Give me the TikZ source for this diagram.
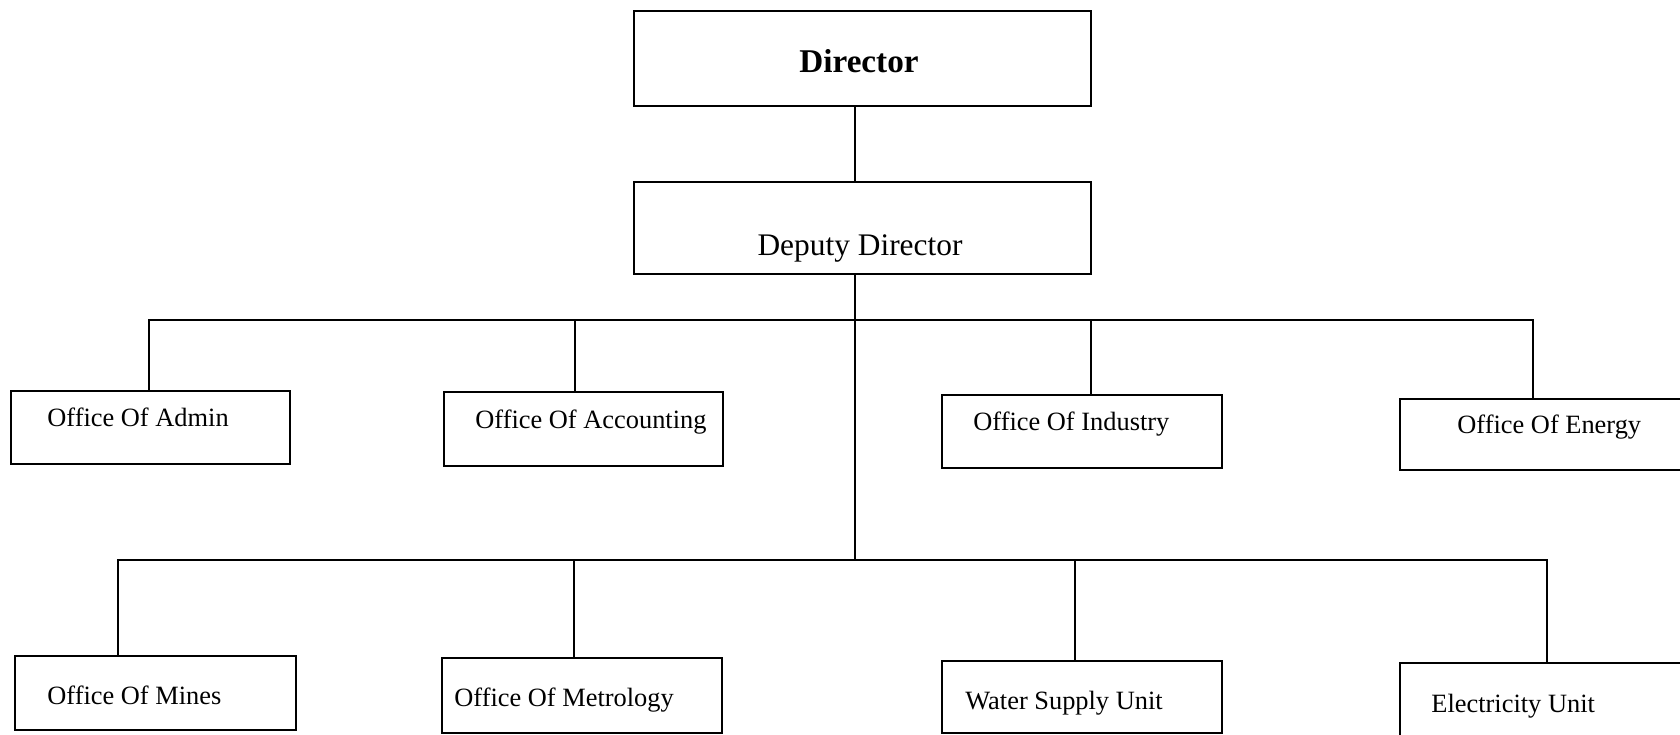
\documentclass[tikz,border=0pt]{standalone}
\usepackage{fontspec}
\setmainfont{Liberation Serif}
\begin{document}
\begin{tikzpicture}[x=0.5pt,y=-0.5pt,
  box/.style={draw, line width=0.75pt, rectangle, inner sep=0pt},
  lbl/.style={inner sep=0pt, anchor=base west, font=\fontsize{13.2}{15}\selectfont},
  conn/.style={line width=0.75pt}]
\useasboundingbox (0,0) rectangle (1680,734);
% boxes
\node[box, minimum width=228.5pt, minimum height=47.5pt] (dir) at (862.5,58.5) {};
\node[box, minimum width=228.5pt, minimum height=46pt] (dep) at (862.5,228) {};
\node[box, minimum width=139.5pt, minimum height=36.5pt] (admin) at (150.5,427.5) {};
\node[box, minimum width=139.5pt, minimum height=37pt] (acct) at (583.5,429) {};
\node[box, minimum width=140pt, minimum height=36.5pt] (ind) at (1082,431.5) {};
\node[box, minimum width=142pt, minimum height=35.5pt] (energy) at (1542,434.5) {};
\node[box, minimum width=140.5pt, minimum height=37pt] (mines) at (155.5,693) {};
\node[box, minimum width=140pt, minimum height=37.5pt] (metro) at (582,695.5) {};
\node[box, minimum width=140pt, minimum height=36pt] (water) at (1082,697) {};
\node[box, minimum width=142pt, minimum height=37.5pt] (elec) at (1542,700.5) {};
% texts
\node[inner sep=0pt, anchor=base, font=\bfseries\fontsize{16.6}{20}\selectfont] (tdir) at (859,72) {Director};
\node[inner sep=0pt, anchor=base, font=\fontsize{15.7}{19}\selectfont] (tdep) at (860,255) {Deputy Director};
\node[lbl] (tadmin) at (47,426) {Office Of Admin};
\node[lbl] (tacct) at (475,428) {Office Of Accounting};
\node[lbl] (tind) at (973,430) {Office Of Industry};
\node[lbl] (tenergy) at (1457,433) {Office Of Energy};
\node[lbl] (tmines) at (47,704) {Office Of Mines};
\node[lbl] (tmetro) at (454,706) {Office Of Metrology};
\node[lbl] (twater) at (965,709) {Water Supply Unit};
\node[lbl] (telec) at (1431,712) {Electricity Unit};
% connectors
\coordinate (t1) at (855,320);
\coordinate (t2) at (855,560);
\draw[conn] (dir.south -| t1) -- (dep.north -| t1);
\draw[conn] (dep.south -| t1) -- (t2);
\draw[conn] ([xshift=-0.75pt]admin.north) |- (t1);
\draw[conn] ([xshift=-4.25pt]acct.north) |- (t1);
\draw[conn] ([xshift=4.5pt]ind.north) |- (t1);
\draw[conn] ([xshift=-4.5pt]energy.north) |- (t1);
\draw[conn] ([xshift=-18.75pt]mines.north) |- (t2);
\draw[conn] ([xshift=-4pt]metro.north) |- (t2);
\draw[conn] ([xshift=-3.5pt]water.north) |- (t2);
\draw[conn] ([xshift=2.5pt]elec.north) |- (t2);
\end{tikzpicture}
\end{document}
